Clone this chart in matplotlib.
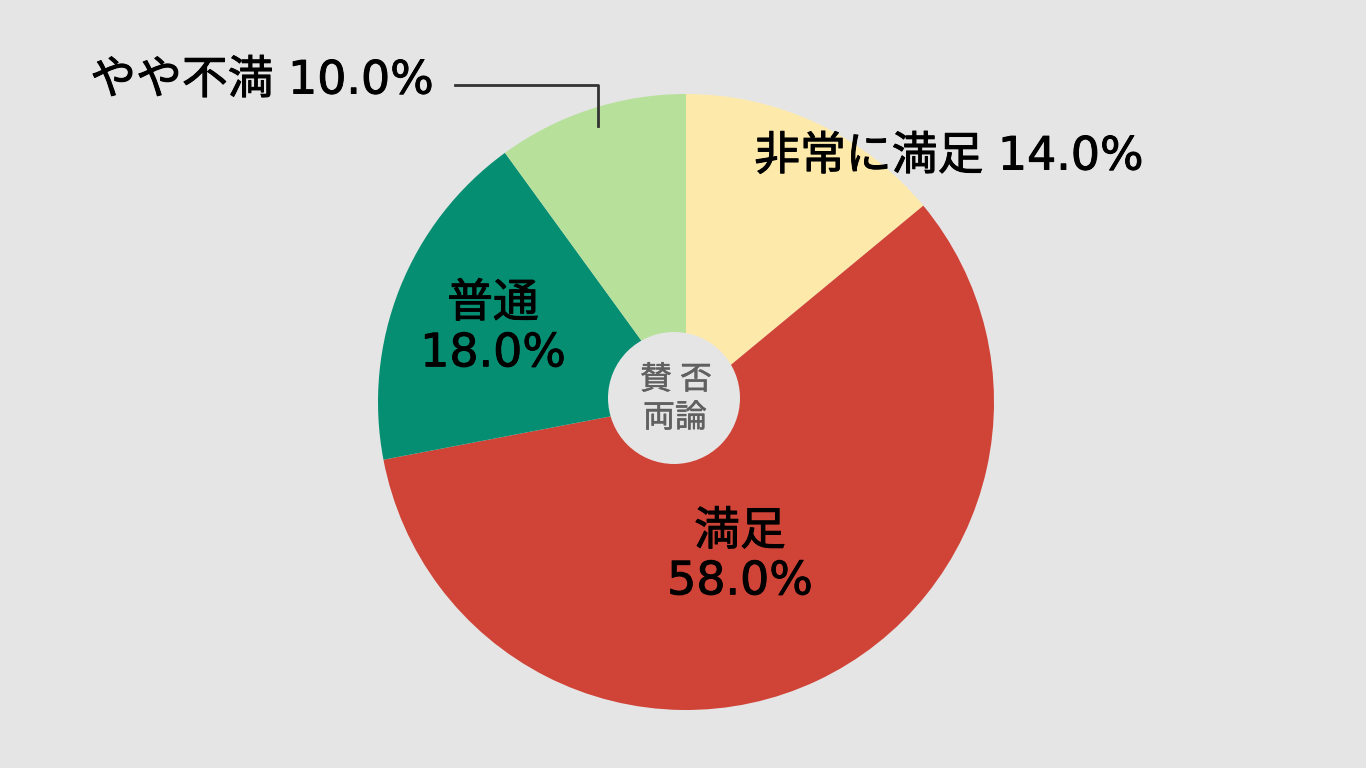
import numpy as np
import matplotlib.pyplot as plt
import matplotlib.patheffects as pe
from matplotlib.patches import Circle

plt.rcParams['font.family'] = ['DejaVu Sans', 'Noto Sans CJK JP']

labels = ['非常に満足', '満足', '普通', 'やや不満']
values = [14.0, 58.0, 18.0, 10.0]
colors = ['#fdeaab', '#d04337', '#068e73', '#b7e09a']

bg = '#e5e5e5'
H = 768

fig = plt.figure(figsize=(13.66, 7.68), dpi=100, facecolor=bg)
ax = fig.add_axes([0, 0, 1, 1])
ax.set_facecolor(bg)

ax.pie(values, colors=colors, startangle=90, counterclock=False,
       center=(686, H - 402), radius=308, wedgeprops={'linewidth': 0})

# centre badge
ax.add_patch(Circle((674, H - 398), 66, facecolor=bg, edgecolor='none', zorder=3))
cj = ['Noto Sans CJK JP']
thin = [pe.withStroke(linewidth=0.35, foreground='#606060')]
ax.text(656, H - 380, '賛', ha='center', va='center', fontsize=23, color='#606060', family=cj, zorder=4, path_effects=thin)
ax.text(696, H - 380, '否', ha='center', va='center', fontsize=23, color='#606060', family=cj, zorder=4, path_effects=thin)
ax.text(675, H - 418, '両論', ha='center', va='center', fontsize=23, color='#606060', family=cj, zorder=4, path_effects=thin)

txt = dict(fontsize=33, color='black', path_effects=[pe.withStroke(linewidth=0.7, foreground='black')])
ax.text(949, H - 157, f'{labels[0]} {values[0]:.1f}%', ha='center', va='center', **txt)
ax.text(740, H - 557, f'{labels[1]}\n{values[1]:.1f}%', ha='center', va='center', linespacing=1.13, **txt)
ax.text(493, H - 329, f'{labels[2]}\n{values[2]:.1f}%', ha='center', va='center', linespacing=1.13, **txt)
ax.text(262, H - 81, f'{labels[3]} {values[3]:.1f}%', ha='center', va='center', **txt)

# leader line for the small slice
ax.plot([455, 598, 598], [H - 85, H - 85, H - 126], color='#333333', lw=2)

ax.set_xlim(0, 1366)
ax.set_ylim(0, H)
ax.set_aspect('equal')
ax.axis('off')

fig.savefig('out.png', dpi=100, facecolor=bg)
